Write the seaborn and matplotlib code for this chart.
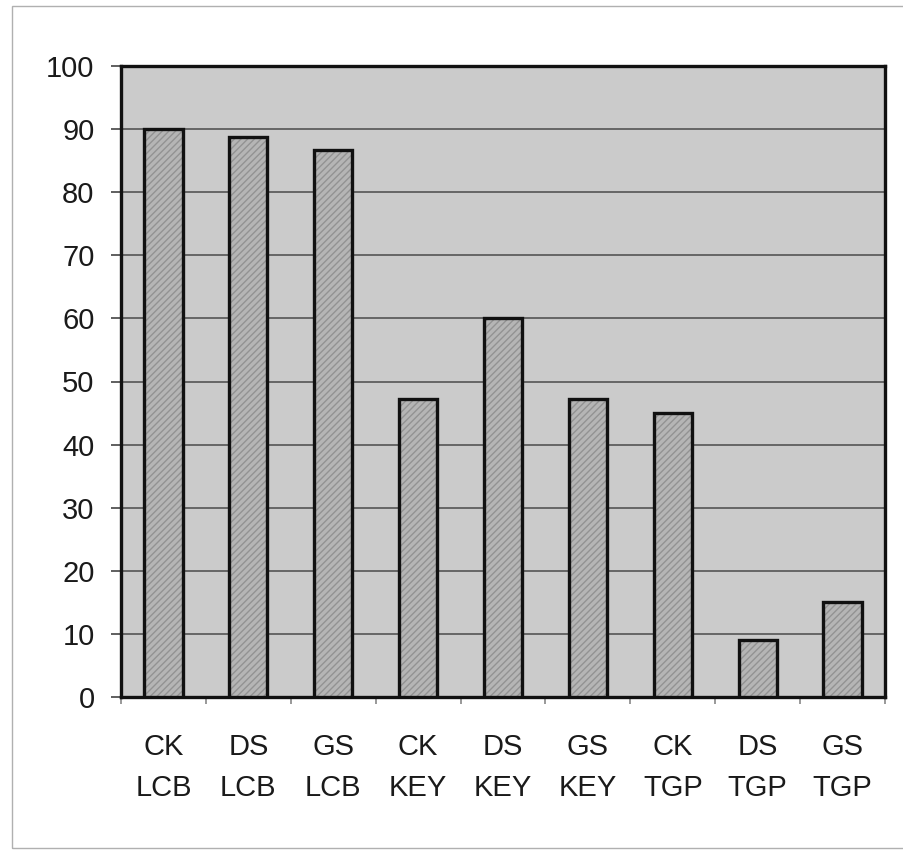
import matplotlib
matplotlib.use("Agg")
import matplotlib.pyplot as plt
from matplotlib.patches import Rectangle
import numpy as np
import pandas as pd
import seaborn as sns

# Group codes and measured percentages
sites = ["CK", "DS", "GS", "CK", "DS", "GS", "CK", "DS", "GS"]
methods = ["LCB", "LCB", "LCB", "KEY", "KEY", "KEY", "TGP", "TGP", "TGP"]
values = [90, 88.7, 86.7, 47.3, 60, 47.3, 45, 9, 15]
y_ticks = list(range(0, 101, 10))

labels = [f"{s}\n{m}" for s, m in zip(sites, methods)]
df = pd.DataFrame({"label": labels, "value": values})

sns.set_theme(style="white")
plt.rcParams["font.family"] = ["Liberation Sans", "DejaVu Sans"]
plt.rcParams["hatch.linewidth"] = 1.0

fig = plt.figure(figsize=(9.04, 8.51), dpi=100)
fig.patch.set_facecolor("white")
ax = fig.add_axes([121 / 904, 1 - 697 / 851, (885 - 121) / 904, (697 - 66) / 851])
ax.set_facecolor("#cbcbcb")

# hatched fill of the bars
sns.barplot(data=df, x="label", y="value", ax=ax, color="#b5b5b5",
            width=0.45, edgecolor="#929292", linewidth=0, hatch="/////",
            order=labels, errorbar=None, saturation=1, zorder=3)
# dark outline of the bars
sns.barplot(data=df, x="label", y="value", ax=ax, fill=False,
            width=0.45, edgecolor="#111111", linewidth=2.4,
            order=labels, errorbar=None, zorder=4)

ax.set_ylim(0, 100)
ax.set_xlim(-0.5, len(labels) - 0.5)
ax.set_yticks(y_ticks)
ax.set_xlabel("")
ax.set_ylabel("")

ax.yaxis.grid(True, color="#555555", linewidth=1.2, zorder=1)
ax.set_axisbelow(True)

for sp in ax.spines.values():
    sp.set_color("#111111")
    sp.set_linewidth(2.4)

ax.tick_params(axis="y", which="major", direction="out", length=7, width=1.2,
               color="#444444", labelsize=21, labelcolor="#1a1a1a", pad=12, left=True)
ax.tick_params(axis="x", which="major", length=0, labelsize=21,
               labelcolor="#1a1a1a", pad=26)
ax.set_xticks(np.arange(-0.5, len(labels), 1.0), minor=True)
ax.tick_params(axis="x", which="minor", direction="out", length=5, width=1.2,
               color="#888888", bottom=True)
for t in ax.get_xticklabels():
    t.set_linespacing(1.6)

# thin frame around the whole figure
fig.patches.append(Rectangle((12 / 904, 1 - 848 / 851), 1.0, (848 - 6) / 851,
                             transform=fig.transFigure, fill=False,
                             edgecolor="#b0b0b0", linewidth=1.0))

fig.savefig("out.png", dpi=100)
